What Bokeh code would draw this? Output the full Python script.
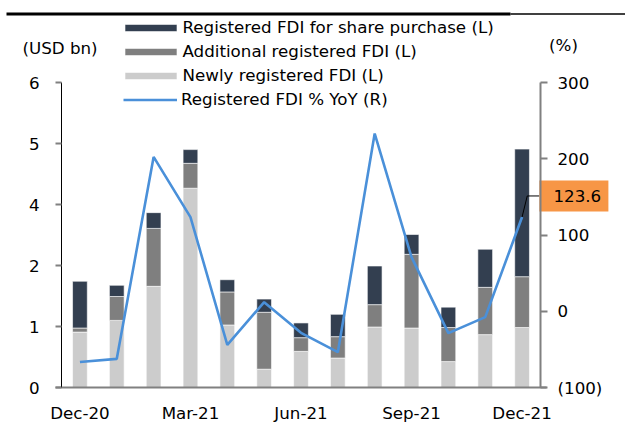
from bokeh.plotting import figure
from bokeh.models import (ColumnDataSource, Range1d, LinearAxis, FixedTicker,
                          CustomJSTickFormatter, Legend, LegendItem, Label)
from bokeh.embed import file_html
from bokeh.resources import INLINE

# ---- data ----
months = ["Dec-20", "Jan-21", "Feb-21", "Mar-21", "Apr-21", "May-21", "Jun-21",
          "Jul-21", "Aug-21", "Sep-21", "Oct-21", "Nov-21", "Dec-21"]
newly = [1.09, 1.32, 1.99, 3.92, 1.23, 0.36, 0.71, 0.58, 1.19, 1.17, 0.51, 1.04, 1.18]
additional = [0.08, 0.47, 1.14, 0.49, 0.65, 1.12, 0.27, 0.42, 0.44, 1.45, 0.67, 0.93, 1.00]
share = [0.92, 0.22, 0.31, 0.27, 0.24, 0.26, 0.29, 0.44, 0.76, 0.39, 0.40, 0.75, 2.51]
yoy = [-66.5, -62.4, 202.4, 123.4, -44.0, 11.9, -28.3, -53.7, 233.0, 70.9, -28.7, -7.7, 123.6]
left_ticks = [0, 1.2, 2.4, 3.6, 4.8, 6]
right_ticks = [-100, 0, 100, 200, 300]
x_label_months = ["Dec-20", "Mar-21", "Jun-21", "Sep-21", "Dec-21"]

FONT = "DejaVu Sans"
FS = "16.7px"
C_SHARE = "#333F50"
C_ADD = "#7F7F7F"
C_NEW = "#CCCCCC"
C_LINE = "#4A90D9"
C_CALLOUT = "#F79646"
AX_GRAY = "#808080"

# ---- layout (canvas pixels, origin top-left) ----
W, H = 625, 426
PLOT_L, PLOT_R = 61, 540
PLOT_T, PLOT_B = 82, 387
CALLOUT_W, CALLOUT_H = 69, 31
n = len(months)
ymin, ymax = left_ticks[0], left_ticks[-1]
pmin, pmax = right_ticks[0], right_ticks[-1]
cat_px = (PLOT_R - PLOT_L) / n
y_px = (PLOT_B - PLOT_T) / (ymax - ymin)
p_px = (PLOT_B - PLOT_T) / (pmax - pmin)

x_range = Range1d(0.5 - PLOT_L / cat_px, n + 0.5 + (W - PLOT_R) / cat_px)
y_range = Range1d(ymin - (H - PLOT_B) / y_px, ymax + PLOT_T / y_px)
p_range = Range1d(pmin - (H - PLOT_B) / p_px, pmax + PLOT_T / p_px)


def dx(px):
    return x_range.start + px / cat_px


def dy(py):
    return y_range.start + (H - py) / y_px


idx = list(range(1, n + 1))
src = ColumnDataSource(dict(x=idx, newly=newly, additional=additional, share=share, yoy=yoy))

p = figure(frame_width=W, frame_height=H, output_backend="svg", toolbar_location=None,
           x_range=x_range, y_range=y_range,
           min_border_left=0, min_border_right=0, min_border_top=0, min_border_bottom=0,
           x_axis_location=None, y_axis_location=None)
p.extra_y_ranges = {"pct": p_range}
p.outline_line_color = None
p.background_fill_color = "white"
p.border_fill_color = "white"
p.grid.visible = False

# header rule of the report page
p.line([dx(6), dx(510)], [dy(13.5), dy(13.5)], line_color="black", line_width=3)
p.line([dx(510), dx(W)], [dy(13.5), dy(13.5)], line_color="black", line_width=1.5)

bars = p.vbar_stack(["newly", "additional", "share"], x="x", width=0.4, source=src,
                    color=[C_NEW, C_ADD, C_SHARE], line_color="white", line_width=0.6)
ln = p.line("x", "yoy", source=src, y_range_name="pct", line_color=C_LINE, line_width=2.6)

# callout for the last value: leader line, box, text
lab_y = yoy[-1] + 27.6
box_x = n + 0.47
p.line([idx[-1], idx[-1] + 0.14, box_x], [yoy[-1], lab_y, lab_y],
       y_range_name="pct", line_color="black", line_width=1)
p.quad(left=[box_x], right=[box_x + CALLOUT_W / cat_px],
       bottom=[lab_y - CALLOUT_H / 2 / p_px], top=[lab_y + CALLOUT_H / 2 / p_px],
       y_range_name="pct", fill_color=C_CALLOUT, line_color=None)
p.add_layout(Label(x=box_x, y=lab_y, y_range_name="pct", x_offset=14,
                   text=f"{yoy[-1]:.1f}", text_align="left", text_baseline="middle",
                   text_font=FONT, text_font_size=FS, text_color="black"))

# left axis
ya = LinearAxis(fixed_location=0.5, bounds=(ymin, ymax), ticker=FixedTicker(ticks=left_ticks),
                formatter=CustomJSTickFormatter(code="return Math.round(tick).toString();"))
ya.axis_line_color = "black"
ya.major_tick_line_color = AX_GRAY
ya.major_tick_line_width = 2
ya.major_tick_in = 0
ya.major_tick_out = 6
ya.minor_tick_line_color = None
ya.major_label_standoff = 16
ya.major_label_text_font = FONT
ya.major_label_text_font_size = FS
ya.major_label_text_color = "black"
p.add_layout(ya, "left")

# right axis
ra = LinearAxis(y_range_name="pct", fixed_location=n + 0.5, bounds=(pmin, pmax),
                ticker=FixedTicker(ticks=right_ticks),
                formatter=CustomJSTickFormatter(
                    code="return tick < 0 ? '(' + Math.abs(tick) + ')' : tick.toString();"))
ra.axis_line_color = AX_GRAY
ra.axis_line_width = 2
ra.major_tick_line_color = AX_GRAY
ra.major_tick_line_width = 2
ra.major_tick_in = 0
ra.major_tick_out = 7
ra.minor_tick_line_color = None
ra.major_label_standoff = 10
ra.major_label_text_font = FONT
ra.major_label_text_font_size = FS
ra.major_label_text_color = "black"
p.add_layout(ra, "right")

# bottom axis
xa = LinearAxis(fixed_location=ymin, bounds=(0.5 - 6 / cat_px, n + 0.5 + 6 / cat_px),
                ticker=FixedTicker(ticks=[idx[months.index(m)] for m in x_label_months]))
xa.major_label_overrides = {idx[months.index(m)]: m for m in x_label_months}
xa.axis_line_color = AX_GRAY
xa.axis_line_width = 2
xa.major_tick_line_color = None
xa.minor_tick_line_color = None
xa.major_tick_in = 0
xa.major_tick_out = 0
xa.major_label_standoff = 15
xa.major_label_text_font = FONT
xa.major_label_text_font_size = FS
xa.major_label_text_color = "black"
p.add_layout(xa, "below")


def style_legend(lg):
    lg.glyph_height = 9
    lg.label_height = 20
    lg.spacing = 4
    lg.padding = 0
    lg.margin = 0
    lg.border_line_color = None
    lg.background_fill_alpha = 0
    lg.label_text_font = FONT
    lg.label_text_font_size = FS
    lg.label_text_color = "black"


# legend for the bars (location = bottom-left corner from canvas bottom-left)
leg_bars = Legend(items=[
    LegendItem(label="Registered FDI for share purchase (L)", renderers=[bars[2]]),
    LegendItem(label="Additional registered FDI (L)", renderers=[bars[1]]),
    LegendItem(label="Newly registered FDI (L)", renderers=[bars[0]]),
], location=(117.5, H - 85), orientation="vertical")
style_legend(leg_bars)
leg_bars.glyph_width = 65
leg_bars.label_standoff = 0
p.add_layout(leg_bars, "center")

leg_line = Legend(items=[LegendItem(label="Registered FDI % YoY (R)", renderers=[ln])],
                  location=(123, H - 109.3), orientation="vertical")
style_legend(leg_line)
leg_line.glyph_width = 54
leg_line.label_standoff = 4
p.add_layout(leg_line, "center")

# axis unit labels
p.add_layout(Label(x=59.5, y=H - 47.5, x_units="screen", y_units="screen", text="(USD bn)",
                   text_align="center", text_baseline="middle",
                   text_font=FONT, text_font_size=FS, text_color="black"))
p.add_layout(Label(x=563, y=H - 44.5, x_units="screen", y_units="screen", text="(%)",
                   text_align="center", text_baseline="middle",
                   text_font=FONT, text_font_size=FS, text_color="black"))

open("out.html", "w").write(file_html(p, INLINE))
